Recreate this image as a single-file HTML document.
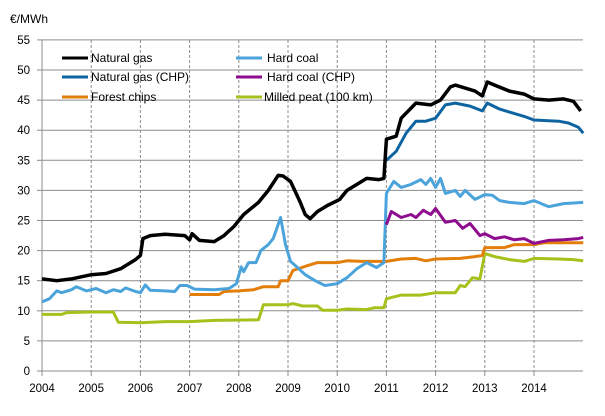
<!DOCTYPE html>
<html><head><meta charset="utf-8"><style>
body{margin:0;background:#fff;}
svg{display:block;font-family:"Liberation Sans",sans-serif;}
</style></head><body>
<svg id="c" width="605" height="416" viewBox="0 0 605 416" xmlns="http://www.w3.org/2000/svg">
<text x="10" y="23" font-size="12" fill="#000">€/MWh</text>
<g id="grid"></g>
<g id="lab" font-size="11.5" fill="#000"></g>
<g id="ser" fill="none" stroke-width="3" stroke-linejoin="round"></g>
<g font-size="12" fill="#000">
<line x1="62" y1="58" x2="88" y2="58" stroke="#000" stroke-width="3"/><text x="91" y="62">Natural gas</text>
<line x1="62" y1="77" x2="88" y2="77" stroke="#0E64A0" stroke-width="3"/><text x="91" y="81">Natural gas (CHP)</text>
<line x1="62" y1="97" x2="88" y2="97" stroke="#E37E0A" stroke-width="3"/><text x="91" y="101">Forest chips</text>
<line x1="236" y1="58" x2="262" y2="58" stroke="#4BA3DC" stroke-width="3"/><text x="267" y="62">Hard coal</text>
<line x1="236" y1="77" x2="262" y2="77" stroke="#8E0D8E" stroke-width="3"/><text x="267" y="81">Hard coal (CHP)</text>
<line x1="236" y1="97" x2="262" y2="97" stroke="#A7C11C" stroke-width="3"/><text x="264" y="101">Milled peat (100 km)</text>
</g>
</svg>
<script>
const X=t=>42+(t-2004)*49.2, Y=v=>371-v*6.02;
const NS="http://www.w3.org/2000/svg";
function el(p,n,a,txt){const e=document.createElementNS(NS,n);for(const k in a)e.setAttribute(k,a[k]);if(txt!=null)e.textContent=txt;document.getElementById(p).appendChild(e);}
for(let v=0;v<=55;v+=5){el('grid','line',{x1:42,x2:583,y1:Y(v),y2:Y(v),stroke:'#8c8c8c','stroke-width':1});el('grid','line',{x1:37,x2:42,y1:Y(v),y2:Y(v),stroke:'#8c8c8c'});el('lab','text',{x:30,y:Y(v)+4,'text-anchor':'end'},v);}
for(let y=2004;y<=2014;y++){if(y>2004)el('grid','line',{x1:X(y),x2:X(y),y1:40,y2:371,stroke:'#8c8c8c','stroke-dasharray':'3,2'});el('grid','line',{x1:X(y),x2:X(y),y1:371,y2:376,stroke:'#8c8c8c'});el('lab','text',{x:X(y),y:392,'text-anchor':'middle'},y);}
el('grid','line',{x1:42,x2:42,y1:40,y2:371,stroke:'#8c8c8c'});
const S=[
['#A7C11C',[2004,9.4,2004.4,9.4,2004.5,9.7,2005,9.8,2005.45,9.8,2005.55,8.1,2006,8,2006.5,8.2,2007,8.2,2007.5,8.4,2008.4,8.5,2008.5,11,2009,11,2009.1,11.2,2009.3,10.8,2009.6,10.8,2009.7,10.1,2010,10.1,2010.2,10.3,2010.6,10.2,2010.75,10.5,2010.95,10.5,2011,12,2011.3,12.6,2011.7,12.6,2012,13,2012.4,13,2012.5,14.2,2012.6,14,2012.75,15.5,2012.9,15.3,2013,19.5,2013.2,19,2013.5,18.5,2013.8,18.2,2014,18.7,2014.5,18.6,2014.8,18.5,2015,18.3]],
['#E37E0A',[2007,12.7,2007.6,12.7,2007.7,13.2,2008,13.3,2008.3,13.5,2008.5,14,2008.8,14,2008.85,15,2009,15,2009.1,16.7,2009.4,17.5,2009.6,18,2010,18,2010.2,18.3,2010.5,18.2,2011,18.2,2011.3,18.6,2011.6,18.7,2011.8,18.3,2012,18.6,2012.5,18.7,2012.8,19,2012.95,19.2,2013,20.5,2013.4,20.5,2013.6,21,2014,21,2014.2,21.3,2015,21.3]],
['#4BA3DC',[2004,11.5,2004.15,12,2004.3,13.3,2004.4,13,2004.6,13.5,2004.7,14,2004.9,13.3,2005.1,13.7,2005.3,13,2005.45,13.5,2005.6,13.2,2005.7,13.8,2005.9,13.2,2006,13,2006.1,14.3,2006.2,13.4,2006.5,13.3,2006.7,13.2,2006.8,14.2,2006.95,14.2,2007.1,13.6,2007.5,13.5,2007.8,13.7,2007.95,14.5,2008.05,17.3,2008.1,16.5,2008.2,18,2008.35,18,2008.45,20,2008.6,21,2008.7,22,2008.85,25.5,2008.95,21,2009.05,18.2,2009.15,17.5,2009.35,16,2009.55,15,2009.75,14.2,2010,14.5,2010.2,15.5,2010.4,17,2010.5,17.5,2010.6,18,2010.8,17.2,2010.95,18,2011,29.5,2011.15,31.5,2011.3,30.5,2011.5,31,2011.7,31.8,2011.8,31,2011.9,32,2012,30.5,2012.1,32,2012.2,29.5,2012.4,30,2012.5,29,2012.6,30,2012.8,28.5,2013,29.3,2013.15,29.2,2013.3,28.3,2013.5,28,2013.8,27.8,2014,28.3,2014.3,27.3,2014.6,27.8,2015,28]],
['#8E0D8E',[2011,24.3,2011.1,26.5,2011.3,25.5,2011.5,26,2011.6,25.5,2011.75,26.7,2011.9,26,2012,27,2012.2,24.7,2012.4,25,2012.55,23.7,2012.7,24.5,2012.9,22.5,2013,22.8,2013.2,22,2013.4,22.3,2013.6,21.8,2013.8,22,2014,21.2,2014.3,21.7,2014.6,21.8,2014.9,22,2015,22.2]],
['#0E64A0',[2011,35,2011.2,36.5,2011.4,39.5,2011.6,41.5,2011.8,41.5,2012,42,2012.2,44.2,2012.4,44.5,2012.7,44,2012.95,43.2,2013.05,44.5,2013.3,43.5,2013.5,43,2013.8,42.3,2014,41.7,2014.5,41.5,2014.7,41.2,2014.9,40.5,2015,39.5]],
['#000',[2004,15.3,2004.3,15,2004.6,15.3,2005,16,2005.3,16.2,2005.6,17,2005.9,18.5,2006,19.2,2006.05,22,2006.2,22.5,2006.5,22.7,2006.9,22.5,2007,21.8,2007.05,22.8,2007.2,21.7,2007.5,21.5,2007.7,22.5,2007.9,24,2008.1,26,2008.4,28,2008.6,30,2008.8,32.5,2008.9,32.4,2009.05,31.5,2009.25,28,2009.35,26,2009.45,25.3,2009.6,26.5,2009.8,27.5,2010.05,28.5,2010.2,30,2010.4,31,2010.6,32,2010.85,31.8,2010.95,32,2011,38.5,2011.2,39,2011.3,42,2011.6,44.5,2011.9,44.2,2012.1,45,2012.3,47.2,2012.4,47.5,2012.6,47,2012.8,46.5,2012.95,45.7,2013.05,48,2013.2,47.5,2013.5,46.5,2013.8,46,2014,45.2,2014.3,45,2014.6,45.2,2014.8,44.8,2014.95,43.2]]
];
for(const [c,d] of S){let p=[];for(let i=0;i<d.length;i+=2)p.push(X(d[i]).toFixed(1)+','+Y(d[i+1]).toFixed(1));el('ser','polyline',{points:p.join(' '),stroke:c,'stroke-width':c=='#000'?3.5:3});}
</script>
</body></html>
